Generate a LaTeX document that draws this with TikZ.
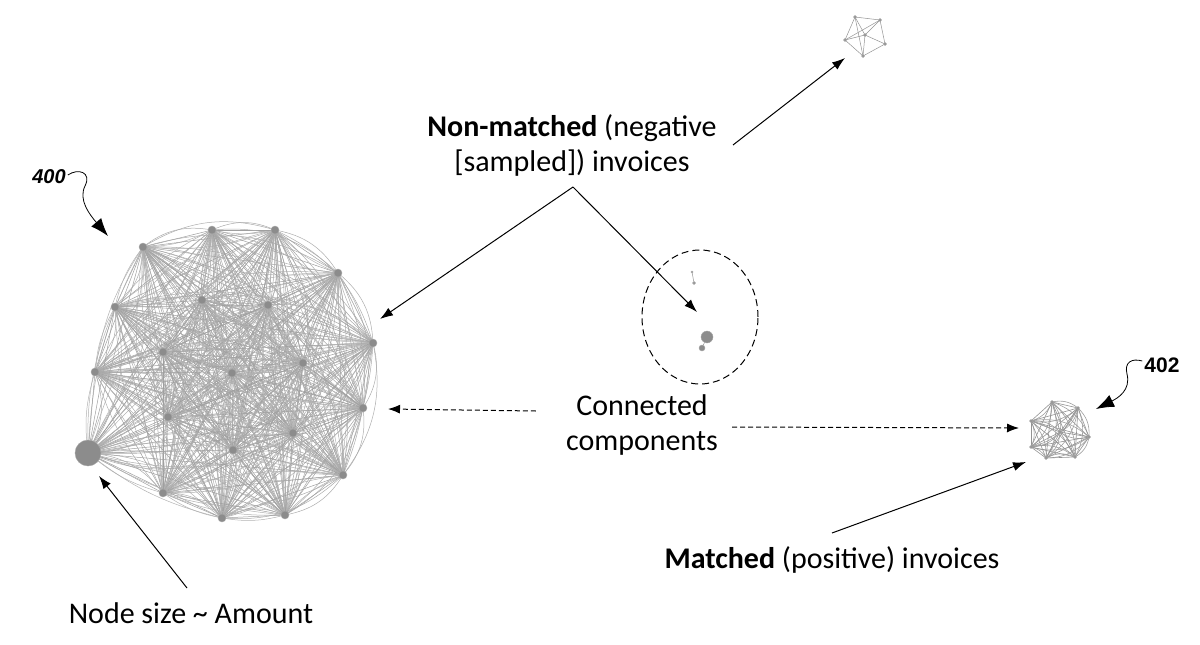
\documentclass[tikz,border=0pt]{standalone}
\usepackage{fontspec}
\setmainfont{Carlito}
\newfontfamily\numfont{Liberation Sans}
\usetikzlibrary{arrows.meta}
\usetikzlibrary{shapes, graphs}
\tikzset{
  vtx/.style={circle,fill=gray!90,draw=gray!70,inner sep=0pt,minimum size=8pt},
  edg/.style={draw=gray!75,line width=0.5pt},
  lbl/.style={font=\fontsize{30}{35}\selectfont,align=center,inner sep=0pt},
  ptr/.style={-{Latex[length=13pt,width=9pt]},line width=1pt},
  dptr/.style={-{Latex[length=12pt,width=9pt]},line width=1pt,dashed,dash pattern=on 5pt off 3pt},
  refptr/.style={-{Latex[length=18pt,width=13pt]},line width=0.8pt},
  refnum/.style={font=\fontsize{20}{24}\selectfont\bfseries,inner sep=0pt},
}
\begin{document}
\begin{tikzpicture}[x=1pt,y=-1pt,>=latex]
\useasboundingbox (0,0) rectangle (1200,645);
%% big component 400
\foreach \n/\px/\py in {1/143/247,2/212/230,3/275/230,4/338/273,5/202/300,6/268/305,7/115/307,
  8/373/343,9/163/352,10/95/372,11/232/373,12/303/363,13/363/408,14/168/417,15/293/433,
  16/233/450,17/88/453,18/343/475,19/163/493,20/222/518,21/285/515}
  \coordinate (big_\n) at (\px,\py);
\foreach \i in {1,...,21}
  \foreach \j in {\i,...,21}
    {\draw[edg] (big_\i) -- (big_\j);
     \draw[edg,draw=gray!65] (big_\i) to[bend left=24] (big_\j);
     \draw[edg,draw=gray!60] (big_\i) to[bend right=12] (big_\j);}
\foreach \n in {1,...,16,18,19,20,21}
  \node[vtx] (bignode_\n) at (big_\n) {};
\node[vtx,minimum size=26pt] (bignode_17) at (big_17) {};
%% small component 402
\foreach \n/\px/\py in {1/1052/402,2/1078/408,3/1031/421,4/1089/437,5/1060/432,6/1031/447,7/1046/458,8/1075/457}
  \coordinate (pos_\n) at (\px,\py);
\foreach \i in {1,...,8}
  \foreach \j in {\i,...,8}
    {\draw[edg,draw=gray!85,line width=0.6pt] (pos_\i) -- (pos_\j);
     \draw[edg,draw=gray!75,line width=0.6pt] (pos_\i) to[bend left=25] (pos_\j);}
\foreach \n in {1,...,8}
  \node[vtx,minimum size=3pt] (posnode_\n) at (pos_\n) {};
%% far component (top)
\foreach \n/\px/\py in {1/855/17,2/880/20,3/845/40,4/865/35,5/885/44,6/863/56}
  \coordinate (far_\n) at (\px,\py);
\foreach \i/\j in {1/2,1/3,1/4,2/4,2/5,3/4,3/6,4/5,4/6,5/6,1/6,2/3}
  \draw[edg,draw=gray!85] (far_\i) -- (far_\j);
\foreach \n in {1,...,6}
  \node[vtx,minimum size=3pt] (farnode_\n) at (far_\n) {};
%% negative samples
\node[draw,dashed,dash pattern=on 7pt off 4pt,line width=1pt,ellipse,
  minimum width=116pt,minimum height=134pt] (negcircle) at (700,317) {};
\node[vtx,minimum size=2pt] (neg_a) at (692,272) {};
\node[vtx,minimum size=3pt] (neg_b) at (694,283) {};
\draw[edg,draw=gray!85] (neg_a) -- (neg_b);
\node[vtx,minimum size=12pt] (neg_c) at (707,337) {};
\node[vtx,minimum size=6pt] (neg_d) at (702,348) {};
\draw[edg,draw=gray!85] (neg_c) -- (neg_d);
%% labels
\node[lbl] (nonmatched) at (572,145) {\textbf{Non-matched} (negative\\ {[}sampled{]}) invoices};
\node[lbl] (connected) at (642,425) {Connected\\ components};
\node[lbl,anchor=base] (matched) at (832,568) {\textbf{Matched} (positive) invoices};
\node[lbl,anchor=base] (nodesize) at (191,623) {Node size \textasciitilde{} Amount};
\node[refnum,font=\fontsize{20}{24}\selectfont\numfont\bfseries\itshape] (ref400) at (49,177) {400};
\node[refnum,font=\fontsize{21}{24}\selectfont\numfont\bfseries] (ref402) at (1162,365) {402};
%% pointers
\coordinate (apex) at (573,187);
\coordinate (tipbig) at (380,319);
\coordinate (tipneg) at (697,312);
\draw[ptr] (apex) -- (tipbig);
\draw[ptr] (apex) -- (tipneg);
\coordinate (farstart) at (733,145);
\coordinate (fartip) at (845,58);
\draw[ptr] (farstart) -- (fartip);
\coordinate (matchstart) at (832,533);
\coordinate (matchtip) at (1026,462);
\draw[ptr] (matchstart) -- (matchtip);
\coordinate (sizestart) at (187,588);
\coordinate (sizetip) at (99,476);
\draw[ptr] (sizestart) -- (sizetip);
\coordinate (leftdash) at (388,409);
\coordinate (rightdash) at (1019,428);
\draw[dptr] (connected.west |- 0,411) ++(-30,0) -- (leftdash);
\draw[dptr] (connected.east |- 0,427) ++(14,0) -- (rightdash);
%% reference squiggles
\draw[refptr] (ref400.east) ++(2,-2) .. controls (78,168) and (92,172) .. (85,186)
  .. controls (78,200) and (90,215) .. (108,236);
\draw[refptr] (ref402.west) ++(-2,-4) .. controls (1132,358) and (1124,362) .. (1127,374)
  .. controls (1131,390) and (1118,398) .. (1096,409);
\end{tikzpicture}
\end{document}
